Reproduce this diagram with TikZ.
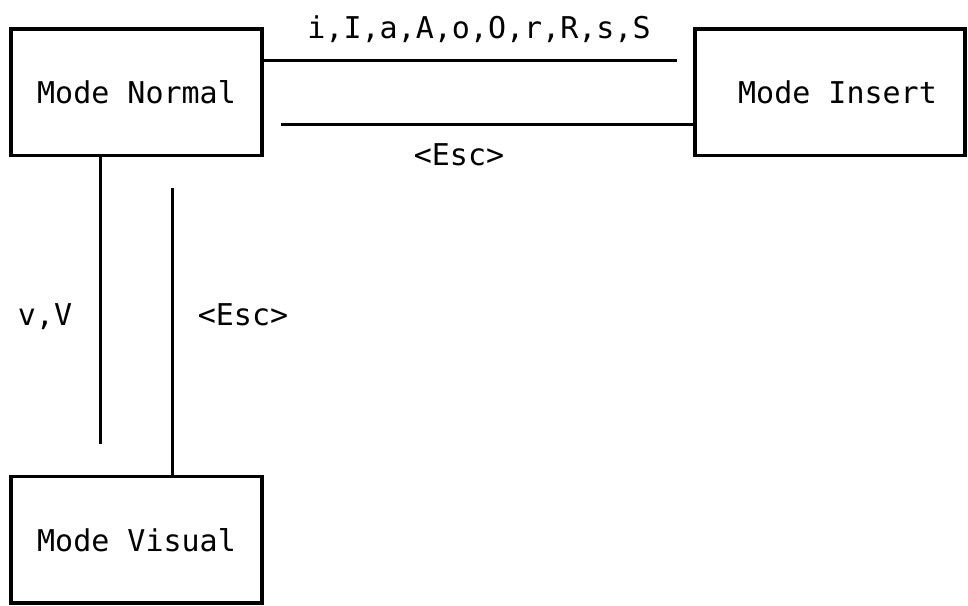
\documentclass[tikz,border=0pt]{standalone}
\usepackage{fontspec}
\setmonofont{DejaVu Sans Mono}
\begin{document}
\begin{tikzpicture}[x=1pt,y=-1pt,
  every node/.style={font=\ttfamily\fontsize{30}{36}\selectfont},
  modebox/.style={draw=black,line width=3.3pt,inner sep=0pt,minimum height=126.5pt},
  link/.style={draw=black,line width=3.3pt},
  lbl/.style={anchor=base,inner sep=0pt}]
\useasboundingbox (0,0) rectangle (968,605);
\node[modebox,minimum width=251pt] (normal) at (136.5,92.25) {Mode Normal};
\node[modebox,minimum width=270pt] (insert) at (830,92.25) {\hspace*{15pt}Mode Insert};
\node[modebox,minimum width=251pt] (visual) at (136.5,539.75) {Mode Visual};
\coordinate (h1) at (677,60.3);
\coordinate (h2) at (280.7,124.7);
\coordinate (v1) at (100.3,444);
\coordinate (v2) at (172.7,188.3);
\draw[link] (normal.east |- h1) -- (h1);
\draw[link] (insert.west |- h2) -- (h2);
\draw[link] (normal.south -| v1) -- (v1);
\draw[link] (visual.north -| v2) -- (v2);
\node[lbl] (lbltop) at (479,38.3) {i,I,a,A,o,O,r,R,s,S};
\node[lbl] (lblesc1) at (459,165) {<Esc>};
\node[lbl] (lblv) at (45,325) {v,V};
\node[lbl] (lblesc2) at (243,325) {<Esc>};
\end{tikzpicture}
\end{document}
